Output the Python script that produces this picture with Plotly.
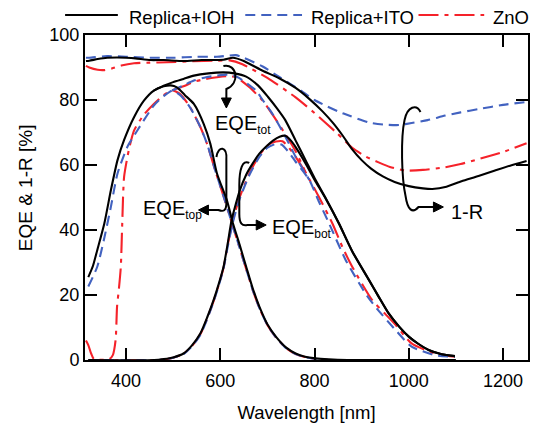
import plotly.graph_objects as go

# ---------------- data ----------------
# 1-R curves
wl_r_ioh = [315, 322, 340, 360, 382, 400, 420, 452, 480, 522, 560, 607, 627, 650, 690, 725, 760, 790, 817, 840, 860, 880, 900, 920, 945, 970, 1000, 1030, 1050, 1080, 1112, 1148, 1183, 1215, 1250]
r_ioh = [92.0, 92.1, 92.6, 93.0, 93.1, 93.0, 92.8, 92.3, 92.3, 92.0, 92.3, 92.4, 93.0, 92.0, 89.0, 86.7, 83.7, 80.2, 76.5, 72.8, 69.0, 64.8, 61.5, 58.9, 56.5, 54.8, 53.5, 52.8, 52.6, 53.3, 55.0, 56.6, 58.3, 59.8, 61.2]

wl_r_ito = [315, 322, 360, 400, 450, 500, 550, 593, 615, 633, 650, 690, 726, 771, 800, 823, 850, 873, 915, 950, 980, 1006, 1040, 1077, 1110, 1148, 1200, 1250]
r_ito = [93.0, 93.0, 93.5, 93.3, 93.0, 93.0, 93.3, 93.3, 93.6, 93.8, 93.0, 90.3, 87.0, 82.9, 80.0, 78.3, 76.5, 75.2, 73.1, 72.4, 72.3, 72.9, 73.8, 75.2, 76.2, 77.2, 78.5, 79.4]

wl_r_zno = [315, 322, 340, 353, 370, 390, 417, 450, 487, 540, 592, 620, 647, 700, 760, 800, 844, 880, 910, 936, 960, 992, 1030, 1077, 1110, 1148, 1200, 1250]
r_zno = [90.5, 90.0, 89.3, 89.2, 89.7, 90.6, 91.3, 91.5, 91.6, 91.9, 92.1, 92.2, 91.0, 86.8, 80.8, 76.0, 70.3, 65.3, 62.5, 60.8, 59.4, 58.3, 58.5, 59.3, 60.3, 61.8, 64.0, 66.7]

# EQE top cell
wl_top_ioh = [320, 330, 339, 354, 368, 382, 396, 417, 438, 459, 480, 495, 508, 525, 544, 565, 579, 593, 614, 627, 641, 655, 669, 683, 700, 718, 740, 760, 780, 802, 830, 870, 1100]
top_ioh = [25.5, 29.0, 33.8, 42.0, 52.3, 61.5, 67.7, 74.7, 79.8, 82.9, 84.2, 84.5, 83.9, 81.5, 78.8, 72.6, 66.5, 57.4, 49.2, 42.0, 35.5, 28.7, 22.0, 16.4, 11.0, 7.2, 3.8, 2.0, 1.0, 0.5, 0.2, 0.0, 0.0]

wl_top_ito = [320, 339, 353, 368, 382, 403, 424, 459, 480, 498, 515, 536, 558, 572, 590, 610, 625, 640, 655, 669, 683, 700, 718, 740, 760, 780, 800, 830]
top_ito = [22.6, 28.7, 36.9, 47.2, 57.4, 65.6, 70.6, 78.3, 81.2, 82.9, 81.5, 77.7, 71.6, 66.5, 58.0, 49.0, 42.0, 35.0, 28.0, 21.5, 16.0, 10.8, 7.0, 3.6, 1.8, 0.9, 0.4, 0.0]

wl_top_zno = [315, 320, 326, 332, 365, 372, 378, 381, 385, 389, 392, 396, 406, 417, 438, 459, 480, 498, 515, 536, 558, 572, 590, 610, 625, 640, 655, 669, 683, 700, 718, 740, 760, 780, 800, 830]
top_zno = [6.0, 4.6, 2.0, 0.3, 0.3, 1.5, 6.2, 16.4, 22.0, 28.7, 42.0, 56.4, 64.6, 70.6, 75.5, 78.8, 81.5, 83.0, 81.8, 77.8, 71.6, 66.5, 58.0, 49.0, 42.0, 35.0, 28.0, 21.5, 16.0, 10.8, 7.0, 3.6, 1.8, 0.9, 0.4, 0.0]

# EQE bottom cell
wl_bot_ioh = [320, 460, 480, 500, 522, 540, 558, 572, 586, 597, 607, 616, 624, 633, 641, 655, 669, 683, 697, 712, 726, 738, 750, 760, 781, 800, 825, 852, 880, 915, 936, 957, 980, 1000, 1020, 1042, 1070, 1098]
bot_ioh = [0, 0, 0.3, 0.8, 2.0, 4.5, 8.2, 13.0, 18.5, 23.5, 28.7, 36.0, 43.0, 48.0, 52.0, 57.0, 60.5, 63.5, 65.6, 67.5, 68.7, 69.0, 67.5, 65.5, 60.5, 55.5, 49.3, 41.9, 33.4, 24.7, 19.5, 14.4, 10.2, 7.2, 5.0, 3.1, 1.8, 1.2]

wl_bot_ito = [320, 470, 500, 522, 540, 558, 572, 586, 597, 607, 616, 627, 641, 662, 683, 700, 718, 730, 745, 760, 789, 810, 831, 866, 908, 929, 972, 1006, 1056, 1098]
bot_ito = [0, 0, 0.7, 1.8, 4.2, 7.8, 12.5, 18.0, 23.0, 28.2, 35.0, 42.5, 49.5, 57.0, 62.5, 65.3, 66.5, 66.3, 64.0, 61.0, 55.4, 48.5, 42.0, 30.8, 20.5, 16.4, 9.2, 4.1, 1.5, 1.0]

wl_bot_zno = [320, 470, 500, 522, 540, 558, 572, 586, 597, 607, 616, 627, 641, 662, 683, 700, 718, 732, 745, 760, 782, 810, 838, 860, 880, 922, 950, 972, 1006, 1056, 1098]
bot_zno = [0, 0, 0.7, 1.9, 4.3, 8.0, 12.7, 18.2, 23.2, 28.4, 35.5, 43.0, 50.0, 57.5, 63.0, 66.0, 67.2, 67.3, 65.5, 62.5, 57.4, 50.0, 42.0, 34.5, 28.7, 18.5, 14.2, 10.8, 5.1, 2.0, 1.0]

# EQE total
wl_tot_ioh = [459, 480, 500, 522, 544, 575, 607, 630, 655, 680, 701, 720, 738, 760, 781, 800, 825, 852, 880, 915, 936, 957, 980, 1000, 1020, 1042, 1070, 1098]
tot_ioh = [82.9, 84.4, 85.5, 86.5, 87.5, 88.2, 88.5, 88.2, 87.2, 84.5, 81.0, 77.5, 73.8, 67.5, 61.5, 56.0, 49.5, 42.0, 33.5, 24.8, 19.5, 14.4, 10.2, 7.2, 5.0, 3.1, 1.8, 1.2]

wl_tot_ito = [498, 522, 544, 570, 593, 615, 634, 650, 662, 676, 690, 711, 739, 760, 789]
tot_ito = [82.9, 84.5, 86.0, 87.0, 87.5, 87.8, 87.2, 85.8, 84.5, 82.9, 80.0, 75.7, 68.5, 62.5, 55.4]

wl_tot_zno = [498, 522, 544, 570, 593, 615, 634, 662, 690, 711, 738, 760, 782]
tot_zno = [83.0, 84.2, 85.6, 86.5, 87.0, 87.3, 87.0, 83.9, 79.8, 75.5, 69.5, 64.2, 57.4]

series_names = ["Replica+IOH", "Replica+ITO", "ZnO"]
x_ticks = [400, 600, 800, 1000, 1200]
y_ticks = [0, 20, 40, 60, 80, 100]

# ---------------- style ----------------
BLACK = "#000000"
BLUE = "#4262c0"
RED = "#f5222a"
styles = {
    "Replica+IOH": dict(color=BLACK, width=2.1, dash="solid"),
    "Replica+ITO": dict(color=BLUE, width=2.1, dash="10px,6px"),
    "ZnO": dict(color=RED, width=2.1, dash="20px,6px,4px,6px"),
}

FONT = "Liberation Sans, Arial, Helvetica, sans-serif"
W, H = 537, 427
ML, MR, MT, MB = 85, 7, 35, 67
XR = [313, 1253]
YR = [0, 100]
pw, ph = W - ML - MR, H - MT - MB


def P(px, py):
    """canvas pixel -> data coordinates (used only to place annotations)"""
    x = XR[0] + (px - ML) / pw * (XR[1] - XR[0])
    y = YR[1] - (py - MT) / ph * (YR[1] - YR[0])
    return x, y


def PP(px, py):
    """canvas pixel -> paper coordinates"""
    return (px - ML) / pw, 1 - (py - MT) / ph


fig = go.Figure()

groups = {
    "Replica+IOH": [(wl_r_ioh, r_ioh), (wl_top_ioh, top_ioh), (wl_bot_ioh, bot_ioh), (wl_tot_ioh, tot_ioh)],
    "Replica+ITO": [(wl_r_ito, r_ito), (wl_top_ito, top_ito), (wl_bot_ito, bot_ito), (wl_tot_ito, tot_ito)],
    "ZnO": [(wl_r_zno, r_zno), (wl_top_zno, top_zno), (wl_bot_zno, bot_zno), (wl_tot_zno, tot_zno)],
}
for name in ["ZnO", "Replica+ITO", "Replica+IOH"]:
    for i, (xs, ys) in enumerate(groups[name]):
        fig.add_trace(go.Scatter(
            x=xs, y=ys, mode="lines", name=name,
            line=dict(shape="spline", smoothing=0.6, **styles[name]),
            showlegend=False, legendgroup=name,
        ))

# ---------------- legend (drawn above the plot) ----------------
legend_items = [  # name, sample x0, x1, text left (px)
    ("Replica+IOH", 65, 118, 127),
    ("Replica+ITO", 246, 303, 310),
    ("ZnO", 420, 486, 493),
]
LEG_Y = 15
for name, x0, x1, tx in legend_items:
    a0 = PP(x0, LEG_Y)
    a1 = PP(x1, LEG_Y)
    fig.add_shape(type="line", xref="paper", yref="paper", x0=a0[0], x1=a1[0], y0=a0[1], y1=a1[1],
                  line=styles[name])
    t = PP(tx, LEG_Y + 2)
    fig.add_annotation(x=t[0], y=t[1], xref="paper", yref="paper", text=name, showarrow=False,
                       xanchor="left", yanchor="middle", font=dict(family=FONT, size=18.5, color=BLACK))

# ---------------- curly arrows + labels ----------------
def path_from_px(cmds):
    out = []
    for c in cmds:
        if isinstance(c, str):
            out.append(c)
        else:
            x, y = P(*c)
            out.append(f"{x:.2f},{y:.2f}")
    return " ".join(out)

curls = [
    ["M", (224, 66), "C", (238, 63), (241, 84), (227, 89), "L", (227, 99)],
    ["M", (217, 157), "C", (219, 145), (228, 146), (227, 160), "L", (227, 203), "C", (227, 211), (224, 212), (219, 210), "L", (207, 210)],
    ["M", (250, 163), "C", (243, 159), (240, 170), (240, 185), "L", (240, 214), "C", (240, 224), (243, 226), (248, 225), "L", (259, 225)],
    ["M", (422, 112), "C", (418, 104), (409, 106), (406, 120), "C", (402, 138), (403, 178), (407, 196), "C", (409, 210), (414, 214), (420, 207), "L", (437, 207)],
]
for c in curls:
    fig.add_shape(type="path", path=path_from_px(c), xref="x", yref="y",
                  line=dict(color=BLACK, width=2), fillcolor="rgba(0,0,0,0)")

heads = [  # tip px, direction (dx, dy)
    ((227, 108), (0, 1)),
    ((199, 210), (-1, 0)),
    ((267, 225), (1, 0)),
    ((445, 207), (1, 0)),
]
HL, HW = 10, 5
for (hx, hy), (dx, dy) in heads:
    bx, by = hx - dx * HL, hy - dy * HL
    px_, py_ = -dy, dx
    pts = [(hx, hy), (bx + px_ * HW, by + py_ * HW), (bx - px_ * HW, by - py_ * HW)]
    path = "M " + " L ".join("{:.2f},{:.2f}".format(*P(*p)) for p in pts) + " Z"
    fig.add_shape(type="path", path=path, xref="x", yref="y",
                  line=dict(color=BLACK, width=1), fillcolor=BLACK)

labels = [
    ("EQE<sub><span style='font-size:12px'>tot</span></sub>", (214, 124)),
    ("EQE<sub><span style='font-size:12px'>top</span></sub>", (141, 209)),
    ("EQE<sub><span style='font-size:12px'>bot</span></sub>", (271, 228)),
    ("1-R", (451, 212)),
]
for txt, (px, py) in labels:
    x, y = P(px, py)
    fig.add_annotation(x=x, y=y, xref="x", yref="y", text=txt, showarrow=False,
                       xanchor="left", yanchor="middle",
                       font=dict(family=FONT, size=20, color=BLACK))

# y-axis title
yt = PP(25, 188)
fig.add_annotation(x=yt[0], y=yt[1], xref="paper", yref="paper", text="EQE & 1-R [%]",
                   showarrow=False, textangle=-90, xanchor="center", yanchor="middle",
                   font=dict(family=FONT, size=19, color=BLACK))

fig.update_layout(
    width=W, height=H,
    margin=dict(l=ML, r=MR, t=MT, b=MB, pad=0),
    paper_bgcolor="white", plot_bgcolor="white",
    font=dict(family=FONT, size=18, color=BLACK),
    showlegend=False,
    xaxis=dict(range=XR, tickvals=x_ticks, ticks="inside", ticklen=12, tickwidth=2, tickcolor=BLACK,
               showline=True, linewidth=2, linecolor=BLACK, mirror="ticks", showgrid=False, zeroline=False,
               ticklabelstandoff=3,
               title=dict(text="Wavelength [nm]", font=dict(family=FONT, size=18.5), standoff=16),
               tickfont=dict(family=FONT, size=18)),
    yaxis=dict(range=YR, tickvals=y_ticks, ticks="inside", ticklen=12, tickwidth=2, tickcolor=BLACK,
               showline=True, linewidth=2, linecolor=BLACK, mirror="ticks", showgrid=False, zeroline=False,
               tickfont=dict(family=FONT, size=18)),
)

fig.write_html("out.html")
